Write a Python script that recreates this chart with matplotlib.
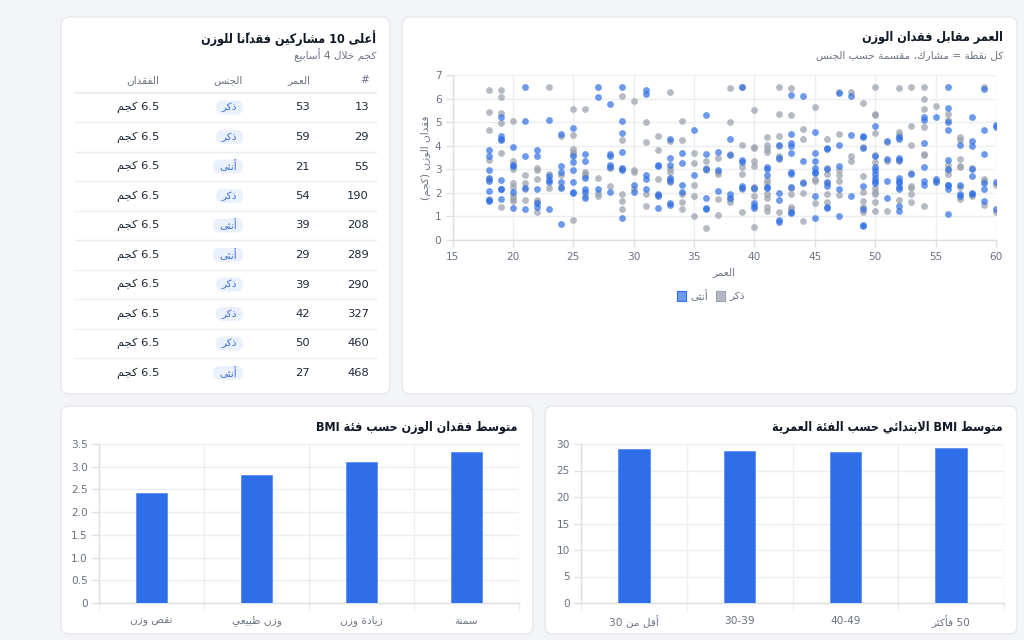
import matplotlib
matplotlib.use("Agg")
import matplotlib.pyplot as plt
from matplotlib.patches import FancyBboxPatch, Rectangle
import numpy as np

# ---------------- data ----------------
table_ids = [13, 29, 55, 190, 208, 289, 290, 327, 460, 468]
table_ages = [53, 59, 21, 54, 39, 29, 39, 42, 50, 27]
table_genders = ["ذكر", "ذكر", "أنثى", "ذكر", "أنثى", "أنثى", "ذكر", "ذكر", "ذكر", "أنثى"]
table_losses = [6.5] * 10

bmi_cats = ["نقص وزن", "وزن طبيعي", "زيادة وزن", "سمنة"]
bmi_loss = [2.42, 2.82, 3.11, 3.33]

age_groups = ["أقل من 30", "30-39", "40-49", "50 فأكثر"]
age_bmi = [29.1, 28.7, 28.4, 29.3]

scatter_ages = list(range(18, 61))
male_loss_by_age = [
    [6.35, 5.45, 4.65, 3.4, 2.6, 1.75],                 # 18
    [6.35, 6.05, 5.4, 4.95, 3.7, 1.4],                  # 19
    [5.05, 3.35, 3.0, 2.4, 2.25, 1.85, 1.75, 1.65],     # 20
    [2.75, 2.4, 2.15, 1.7],                             # 21
    [3.05, 2.95, 2.6, 1.7, 1.6, 1.2],                   # 22
    [6.5, 2.8, 2.2],                                    # 23
    [4.4, 2.75, 2.25],                                  # 24
    [5.55, 4.45, 3.85, 3.75, 3.65, 0.85],               # 25
    [5.55, 2.9, 2.8, 2.7, 1.85],                        # 26
    [2.65, 2.0, 1.85],                                  # 27
    [3.05, 2.3],                                        # 28
    [6.1, 4.25, 3.0, 1.95, 1.65, 1.3],                  # 29
    [5.9, 2.95, 2.9, 2.15],                             # 30
    [5.0, 4.15, 1.95, 1.45],                            # 31
    [4.4, 3.8, 2.6, 1.9],                               # 32
    [6.3, 4.2, 3.0, 2.9, 2.6, 2.45],                    # 33
    [5.05, 4.25, 1.95, 1.6, 1.3],                       # 34
    [3.7, 3.25, 2.35, 1.85, 1.0],                       # 35
    [3.35, 3.05, 2.95, 0.5],                            # 36
    [3.5, 2.9, 2.8, 1.75, 1.05],                        # 37
    [6.45, 5.0, 3.65, 1.75, 1.6],                       # 38
    [6.5, 4.05, 3.1, 2.8, 2.15, 1.2],                   # 39
    [5.5, 3.95, 3.9, 3.35, 3.15, 2.25, 2.15, 1.85, 0.55],  # 40
    [4.35, 4.05, 3.85, 3.75, 2.55, 2.4, 1.95, 1.8, 1.4, 1.25],  # 41
    [6.5, 5.35, 4.4, 4.0, 3.55, 3.45, 1.2],             # 42
    [6.45, 5.3, 2.2, 1.95, 1.4, 1.3],                   # 43
    [4.7, 4.3, 2.45, 2.0, 0.8],                         # 44
    [5.65, 2.6, 2.5, 1.55],                             # 45
    [4.3, 3.05, 2.8, 2.4, 1.95, 1.6],                   # 46
    [6.3, 4.5, 2.95, 2.75, 2.5, 1.9],                   # 47
    [6.3, 3.55, 3.35],                                  # 48
    [5.8, 3.95, 2.7, 2.05, 1.65, 1.4, 1.2],             # 49
    [6.5, 5.35, 5.3, 4.55, 3.6, 3.3, 2.2, 2.05, 1.95, 1.6, 1.25],  # 50
    [4.15, 3.35, 1.25],                                 # 51
    [6.45, 4.6, 4.45, 3.35, 1.7],                       # 52
    [6.5, 4.85, 4.05, 2.85, 2.3, 2.2, 1.95, 1.6],       # 53
    [6.5, 6.0, 5.55, 4.8, 3.65, 3.6, 1.45],             # 54
    [5.7, 2.5],                                         # 55
    [5.35, 5.1, 3.2, 2.95, 2.8],                        # 56
    [4.35, 4.25, 3.45, 3.15, 3.1, 2.25, 1.75],          # 57
    [3.05, 1.85],                                       # 58
    [6.5, 2.6, 2.5, 1.5],                               # 59
    [2.35, 1.2],                                        # 60
]
female_loss_by_age = [
    [3.8, 3.55, 2.95, 2.65, 2.5, 2.1, 1.7, 1.65],       # 18
    [5.2, 4.4, 4.3, 4.25, 2.55, 2.15, 2.15, 1.75],      # 19
    [3.95, 3.2, 3.15, 2.05, 1.35],                      # 20
    [6.5, 5.05, 3.55, 2.2, 1.3],                        # 21
    [3.8, 3.55, 2.15, 1.55, 1.4],                       # 22
    [5.1, 2.7, 2.55, 2.45, 1.3],                        # 23
    [4.5, 3.15, 2.9, 2.45, 2.2, 0.7],                   # 24
    [4.75, 3.55, 3.3, 2.95, 2.45, 2.05, 2.0],           # 25
    [3.65, 3.35, 2.65, 2.15, 2.05, 1.8],                # 26
    [6.5, 6.05, 2.15],                                  # 27
    [5.75, 3.65, 3.55, 3.2, 3.1, 2.05],                 # 28
    [6.5, 5.05, 4.55, 3.75, 3.05, 2.95, 0.95],          # 29
    [2.35, 2.05],                                       # 30
    [6.35, 6.2, 2.75, 2.6, 2.15],                       # 31
    [3.2, 3.15, 1.95, 1.85, 1.35],                      # 32
    [4.3, 3.5, 3.2, 2.65, 2.5, 1.55, 1.5],              # 33
    [3.7, 3.25, 2.35, 2.05],                            # 34
    [4.65, 2.75],                                       # 35
    [5.3, 3.65, 3.0, 1.8, 1.35, 1.3],                   # 36
    [3.75, 2.95, 2.1],                                  # 37
    [4.3, 3.6, 1.95, 1.8],                              # 38
    [6.5, 3.4, 3.3, 2.3, 2.2],                          # 39
    [2.2, 1.55, 1.45, 1.35],                            # 40
    [3.1, 3.0, 2.75, 2.25, 2.2],                        # 41
    [4.05, 3.5, 2.0, 1.7, 0.85, 0.75],                  # 42
    [6.15, 4.5, 4.1, 4.0, 3.7, 2.9, 2.8, 2.25, 1.2, 1.15],  # 43
    [6.1, 3.35, 2.4],                                   # 44
    [4.6, 3.7, 3.35, 3.05, 2.9, 2.85, 1.85, 0.95],      # 45
    [3.9, 3.85, 3.0, 2.45, 2.3, 1.4, 1.35],             # 46
    [6.25, 4.05, 3.15, 2.15, 1.0],                      # 47
    [6.1, 4.45, 1.85],                                  # 48
    [4.4, 4.35, 3.9, 2.3, 1.3, 0.65, 0.6],              # 49
    [4.85, 3.55, 3.1, 2.95, 2.8, 2.65, 2.5, 2.4],       # 50
    [4.2, 3.45, 2.5, 1.8],                              # 51
    [4.35, 4.3, 3.5, 3.4, 2.65, 2.5, 2.4, 2.25, 2.15, 1.45, 1.25],  # 52
    [2.8],                                              # 53
    [5.2, 5.1, 4.1, 3.1, 2.5, 2.35],                    # 54
    [5.2, 2.6, 2.45],                                   # 55
    [6.5, 5.6, 5.0, 4.65, 3.4, 3.0, 2.35, 2.35, 2.15, 1.1],  # 56
    [4.05, 2.35, 1.95, 1.85],                           # 57
    [5.2, 4.2, 4.0, 3.0, 2.7, 2.0, 1.95],               # 58
    [6.4, 4.65, 3.65, 2.4, 2.15, 1.65],                 # 59
    [4.9, 4.8, 2.45, 1.3],                              # 60
]

# ---------------- Arabic shaping (presentation forms) + simple RTL ordering ----------------
_SPEC = [(0x621, 1), (0x622, 2), (0x623, 2), (0x624, 2), (0x625, 2), (0x626, 4), (0x627, 2),
         (0x628, 4), (0x629, 2), (0x62A, 4), (0x62B, 4), (0x62C, 4), (0x62D, 4), (0x62E, 4),
         (0x62F, 2), (0x630, 2), (0x631, 2), (0x632, 2), (0x633, 4), (0x634, 4), (0x635, 4),
         (0x636, 4), (0x637, 4), (0x638, 4), (0x639, 4), (0x63A, 4), (0x641, 4), (0x642, 4),
         (0x643, 4), (0x644, 4), (0x645, 4), (0x646, 4), (0x647, 4), (0x648, 2), (0x649, 2),
         (0x64A, 4)]
_BASE = {}
_code = 0xFE80
for _cp, _n in _SPEC:
    _BASE[chr(_cp)] = (_code, _n)
    _code += _n
_LAMALEF = {"\u0622": 0xFEF5, "\u0623": 0xFEF7, "\u0625": 0xFEF9, "\u0627": 0xFEFB}
_MIRROR = {"(": ")", ")": "("}


def _is_mark(c):
    return 0x64B <= ord(c) <= 0x652 or ord(c) == 0x670


def _joins(b):
    if b.startswith("LA"):
        return (True, False)
    if b in _BASE:
        n = _BASE[b][1]
        return (n > 1, n == 4)
    if b == "\u0640":
        return (True, True)
    return (False, False)


def _shape(word):
    clusters = []
    for c in word:
        if _is_mark(c) and clusters:
            clusters[-1][1] += c
        else:
            clusters.append([c, ""])
    merged = []
    i = 0
    while i < len(clusters):
        b, m = clusters[i]
        if b == "\u0644" and i + 1 < len(clusters) and clusters[i + 1][0] in _LAMALEF:
            merged.append(["LA" + clusters[i + 1][0], m + clusters[i + 1][1]])
            i += 2
        else:
            merged.append([b, m])
            i += 1
    out = []
    for i, (b, m) in enumerate(merged):
        jp, jn = _joins(b)
        prev_jn = i > 0 and _joins(merged[i - 1][0])[1]
        next_jp = i + 1 < len(merged) and _joins(merged[i + 1][0])[0]
        cp_ = jp and prev_jn
        cn_ = jn and next_jp
        if b.startswith("LA"):
            g = chr(_LAMALEF[b[2]] + (1 if cp_ else 0))
        elif b in _BASE:
            base, n = _BASE[b]
            if n == 1:
                g = chr(base)
            elif n == 2:
                g = chr(base + (1 if cp_ else 0))
            else:
                g = chr(base + (3 if (cp_ and cn_) else 1 if cp_ else 2 if cn_ else 0))
        else:
            g = _MIRROR.get(b, b)
        out.append(g + m)
    return out


def ar(text):
    vis = []
    for t in text.split(" "):
        if any("\u0600" <= c <= "\u06FF" for c in t):
            vis.append("".join(reversed(_shape(t))))
        else:
            vis.append(t)
    return " ".join(reversed(vis))


# ---------------- style ----------------
plt.rcParams["font.family"] = ["DejaVu Sans"]
W, H = 1024, 640
BG = "#f4f5f7"
BORDER = "#e6e8ec"
GRID = "#eceef1"
SPINE = "#dcdfe4"
TXT = "#1f2937"
MUTED = "#6b7280"
BLUE = "#2e6ee8"
PX = 0.72  # px -> pt at 100 dpi
TITLE_PX = 12.5
SUB_PX = 10.5
BODY_PX = 11.5
TICK_PX = 10.5

fig = plt.figure(figsize=(W / 100, H / 100), dpi=100)
fig.patch.set_facecolor(BG)
bg = fig.add_axes([0, 0, 1, 1])
bg.set_xlim(0, W)
bg.set_ylim(H, 0)
bg.axis("off")


def rect(x0, y0, x1, y1):
    return [x0 / W, 1 - y1 / H, (x1 - x0) / W, (y1 - y0) / H]


def card(x0, y0, x1, y1):
    bg.add_patch(FancyBboxPatch((x0, y0), x1 - x0, y1 - y0,
                                boxstyle="round,pad=0,rounding_size=8",
                                fc="white", ec=BORDER, lw=1.0))


def title(x, y, s):
    bg.text(x, y, ar(s), ha="right", va="center", fontsize=TITLE_PX * PX,
            fontweight="bold", color="#111827", fontstretch="condensed")


card(61, 17, 390, 394)
card(402, 17, 1017, 394)
card(61, 406, 533, 634)
card(545, 406, 1017, 634)


def style_axes(ax):
    ax.set_facecolor("none")
    for s in ["top", "right"]:
        ax.spines[s].set_visible(False)
    for s in ["left", "bottom"]:
        ax.spines[s].set_color(SPINE)
        ax.spines[s].set_linewidth(1.0)
    ax.tick_params(axis="both", which="both", colors=SPINE, labelcolor=MUTED,
                   labelsize=TICK_PX * PX, length=5, width=1.0)
    ax.tick_params(axis="x", pad=4)
    ax.tick_params(axis="y", pad=3)
    ax.set_axisbelow(True)


# ---------------- table ----------------
title(376, 38, "أعلى 10 مشاركين فقدانًا للوزن")
bg.text(376, 55, ar("كجم خلال 4 أسابيع"), ha="right", va="center",
        fontsize=SUB_PX * PX, color=MUTED)
col_right = [369, 310, 243, 159]
headers = ["#", "العمر", "الجنس", "الفقدان"]
for x, h in zip(col_right, headers):
    bg.text(x, 80, ar(h), ha="right", va="center", fontsize=SUB_PX * PX, color=MUTED)
bg.plot([75, 376], [93, 93], color="#e5e7eb", lw=1.2)
row_h = 29.5
for i in range(len(table_ids)):
    yc = 107.5 + i * row_h
    bg.text(369, yc, str(table_ids[i]), ha="right", va="center", fontsize=BODY_PX * PX, color=TXT)
    bg.text(310, yc, str(table_ages[i]), ha="right", va="center", fontsize=BODY_PX * PX, color=TXT)
    g = table_genders[i]
    bw = 27 if g == "ذكر" else 30
    bg.add_patch(FancyBboxPatch((243 - bw, yc - 7), bw, 14,
                                boxstyle="round,pad=0,rounding_size=7",
                                fc="#ebf0fd", ec="none"))
    bg.text(243 - bw / 2, yc, ar(g), ha="center", va="center", fontsize=10.5 * PX,
            color="#3b6fe0")
    bg.text(159, yc, ar(f"{table_losses[i]:.1f} كجم"), ha="right", va="center",
            fontsize=BODY_PX * PX, color=TXT)
    if i < len(table_ids) - 1:
        bg.plot([75, 376], [yc + 14.7, yc + 14.7], color="#eceef1", lw=1.0)

# ---------------- scatter ----------------
title(1003, 38, "العمر مقابل فقدان الوزن")
bg.text(1003, 55, ar("كل نقطة = مشارك، مقسمة حسب الجنس"), ha="right", va="center",
        fontsize=SUB_PX * PX, color=MUTED)

male_x, male_y, fem_x, fem_y = [], [], [], []
for a, ml, fl in zip(scatter_ages, male_loss_by_age, female_loss_by_age):
    male_x += [a] * len(ml)
    male_y += ml
    fem_x += [a] * len(fl)
    fem_y += fl

ax = fig.add_axes(rect(452.6, 75, 996, 240))
style_axes(ax)
ax.scatter(male_x, male_y, s=24, color="#9ca3af", alpha=0.75, linewidths=0, zorder=3)
ax.scatter(fem_x, fem_y, s=24, color="#2f6fe6", alpha=0.7, linewidths=0, zorder=3)
ax.set_xlim(15, 60)
ax.set_ylim(0, 7)
ax.set_xticks(range(15, 61, 5))
ax.set_yticks(range(0, 8))
ax.grid(True, color=GRID, lw=1.0)
bg.text(724, 272, ar("العمر"), ha="center", va="center", fontsize=TICK_PX * PX, color=MUTED)
bg.text(426, 158, ar("فقدان الوزن (كجم)"), ha="center", va="center", rotation=90,
        fontsize=TICK_PX * PX, color=MUTED)
# legend
bg.add_patch(Rectangle((677, 291), 9, 10, fc="#6f9bef", ec="#2f6fe6", lw=0.8))
bg.text(690, 296, ar("أنثى"), ha="left", va="center", fontsize=TICK_PX * PX, color=MUTED)
bg.add_patch(Rectangle((716, 291), 9, 10, fc="#b3b8c2", ec="#9ca3af", lw=0.8))
bg.text(729, 296, ar("ذكر"), ha="left", va="center", fontsize=TICK_PX * PX, color=MUTED)


# ---------------- bar charts ----------------
def bar_chart(box, cats, vals, ymax, step, fmt):
    a = fig.add_axes(rect(*box))
    style_axes(a)
    xs = np.arange(len(cats))
    a.bar(xs, vals, width=0.3, color=BLUE, edgecolor="#5b8ef0", linewidth=0.6, zorder=3)
    a.set_xlim(-0.5, len(cats) - 0.5)
    a.set_ylim(0, ymax)
    yt = np.arange(0, ymax + step / 2, step)
    a.set_yticks(yt)
    a.set_yticklabels([fmt(v) for v in yt])
    a.set_xticks(xs)
    a.set_xticklabels([ar(c) for c in cats])
    a.tick_params(axis="x", which="major", length=0, pad=9)
    a.set_xticks(np.arange(-0.5, len(cats), 1.0), minor=True)
    a.tick_params(axis="x", which="minor", length=6, color=GRID)
    a.grid(True, axis="y", color=GRID, lw=1.0)
    a.grid(True, axis="x", which="minor", color=GRID, lw=1.0)
    a.grid(False, axis="x", which="major")
    return a


title(518, 428, "متوسط فقدان الوزن حسب فئة BMI")
bar_chart((99, 444, 519, 603), bmi_cats, bmi_loss, 3.5, 0.5,
          lambda v: "0" if v == 0 else f"{v:.1f}")

title(1003, 428, "متوسط BMI الابتدائي حسب الفئة العمرية")
bar_chart((581, 444, 1004, 603), age_groups, age_bmi, 30, 5, lambda v: f"{int(v)}")

fig.savefig("out.png", dpi=100, facecolor=BG)
